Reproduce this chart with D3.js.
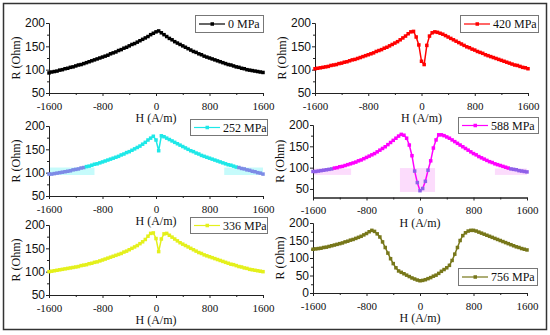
<!DOCTYPE html>
<html>
<head>
<meta charset="utf-8">
<script src="https://cdn.jsdelivr.net/npm/d3@7"></script>
<style>
  body { margin: 0; background: #fff; }
  svg { display: block; }
</style>
</head>
<body>
<div id="chart"></div>
<script>
// Field values (A/m), shared by every curve
var H = [-1600,-1560,-1520,-1480,-1440,-1400,-1360,-1320,-1280,-1240,
         -1200,-1160,-1120,-1080,-1040,-1000,-960,-920,-880,-840,
         -800,-760,-720,-680,-640,-600,-560,-520,-480,-440,
         -400,-360,-320,-280,-240,-200,-160,-120,-80,-40,
         0,
         40,80,120,160,200,240,280,320,360,400,
         440,480,520,560,600,640,680,720,760,800,
         840,880,920,960,1000,1040,1080,1120,1160,1200,
         1240,1280,1320,1360,1400,1440,1480,1520,1560,1600];

// Resistance (Ohm)
var r0 = [93,95,96,97,99,100,102,103,105,106,
          108,110,111,113,115,117,119,121,123,125,
          127,129,131,134,136,138,141,143,146,148,
          151,154,156,159,162,165,168,171,175,178,
          181,
          183,179,175,171,167,164,160,157,154,151,
          148,145,142,139,137,134,132,129,127,125,
          123,121,119,117,115,113,111,110,108,106,
          105,103,102,100,99,98,97,96,95,94];

var r420 = [102,103,104,105,106,107,109,110,111,113,
            114,116,117,119,121,122,124,126,128,130,
            132,134,136,139,141,143,146,148,151,154,
            157,160,164,168,172,177,181,182,170,153,
            118,
            111,152,172,179,181,180,178,176,173,170,
            167,164,161,158,155,152,149,147,144,142,
            139,137,135,132,130,128,126,124,122,120,
            118,116,114,112,110,109,107,105,104,102];

var r252 = [97,97,98,99,100,101,102,103,104,106,
            107,108,110,111,113,114,116,118,119,121,
            123,125,127,129,131,133,135,138,140,143,
            145,148,151,154,157,161,165,170,174,178,
            170,
            147,179,177,174,171,168,165,162,159,156,
            153,150,147,145,142,140,137,135,133,131,
            129,127,125,123,121,119,117,116,114,112,
            111,109,108,106,105,103,102,100,99,97];

var r588 = [91,91,92,93,94,95,96,97,99,100,
            102,103,105,107,109,111,113,116,118,121,
            124,127,130,133,137,141,145,149,154,159,
            164,169,174,178,176,169,153,128,92,65,
            46,
            51,68,94,116,146,165,177,177,175,172,
            169,165,161,157,153,149,145,141,137,133,
            130,126,123,120,117,114,112,109,107,105,
            103,101,99,97,96,95,93,92,91,90];

var r336 = [100,101,102,103,104,105,106,107,108,109,
            110,111,113,114,115,117,118,120,121,123,
            125,127,129,131,133,135,137,139,142,144,
            147,150,153,156,160,164,169,176,182,183,
            171,
            143,170,181,182,178,174,170,166,162,159,
            156,153,150,147,144,141,139,136,134,132,
            130,128,126,124,122,120,118,116,115,113,
            111,110,108,107,105,104,103,102,101,100];

var r756 = [125,126,127,128,130,131,133,135,137,139,
            141,143,146,148,151,153,156,159,162,166,
            170,175,179,176,169,160,146,130,114,98,
            84,72,63,59,55,51,47,43,40,37,
            35,
            36,38,41,44,48,51,56,62,67,72,
            79,93,111,130,150,164,172,177,179,179,
            177,174,171,168,165,162,159,156,153,150,
            147,144,141,138,135,132,130,127,125,123];

// faint selection bands seen in the original figure: [H from, H to, R from, R to]
var bands252 = [[-1600, -920, 95, 111], [1020, 1600, 95, 111]];
var bands588 = [[-1600, -1030, 83, 98], [-300, 225, 43, 99], [1120, 1600, 83, 98]];

var legendLabels = ["0 MPa", "420 MPa", "252 MPa", "588 MPa", "336 MPa", "756 MPa"];
var xTicks = [-1600, -800, 0, 800, 1600];
var xMinor = [-1200, -400, 400, 1200];
var yTicks = [50, 100, 150, 200];
var yTicks0 = [0, 50, 100, 150, 200];
var yMinor = [75, 125, 175];
var yMinor0 = [25, 75, 125, 175];

var width = 550;
var height = 335;
var serif = "'Liberation Serif', 'Times New Roman', serif";
var sans = "'Liberation Sans', Arial, sans-serif";

var svg = d3.select("#chart").append("svg")
  .attr("width", width)
  .attr("height", height);

svg.append("rect")
  .attr("width", width).attr("height", height)
  .attr("fill", "#fff");

// outer frame
svg.append("rect")
  .attr("x", 3.5).attr("y", 3.5)
  .attr("width", 543).attr("height", 326)
  .attr("fill", "none")
  .attr("stroke", "#333")
  .attr("stroke-width", 1.5);

// layout of the six panels (pixel boxes), data comes from the arrays above
var panels = [
  {data: r0,   name: legendLabels[0], color: "#000000", x0: 49,  x1: 263, yTop: 23,  yBot: 93,    dom: [50, 200], ticks: yTicks,  minor: yMinor,  leg: [195, 15, 68, 17]},
  {data: r420, name: legendLabels[1], color: "#ff0000", x0: 315, x1: 528, yTop: 23,  yBot: 93,    dom: [50, 200], ticks: yTicks,  minor: yMinor,  leg: [460, 15, 78, 17]},
  {data: r252, name: legendLabels[2], color: "#1ee8e8", x0: 49,  x1: 263, yTop: 126, yBot: 196,   dom: [50, 200], ticks: yTicks,  minor: yMinor,  leg: [190, 119, 77, 16],
   bands: bands252, bandFill: "#c6fbfb", hiColor: "#7d8be6"},
  {data: r588, name: legendLabels[3], color: "#ff00ff", x0: 313, x1: 527, yTop: 125, yBot: 197.5, dom: [30, 200], ticks: yTicks,  minor: yMinor,  leg: [458, 117, 80, 16],
   bands: bands588, bandFill: "#fcdcfc", hiColor: "#8f5fe8"},
  {data: r336, name: legendLabels[4], color: "#e4f01c", x0: 49,  x1: 263, yTop: 225, yBot: 295,   dom: [50, 200], ticks: yTicks,  minor: yMinor,  leg: [190, 217, 77, 16]},
  {data: r756, name: legendLabels[5], color: "#77771a", x0: 313, x1: 527, yTop: 223, yBot: 293,   dom: [0, 200],  ticks: yTicks0, minor: yMinor0, leg: [458, 268, 79, 17]}
];

panels.forEach(function(p) {
  var g = svg.append("g");

  var x = d3.scaleLinear().domain([-1600, 1600]).range([p.x0, p.x1]);
  var y = d3.scaleLinear().domain(p.dom).range([p.yBot, p.yTop]);

  var bands = p.bands || [];
  g.selectAll(".band")
    .data(bands)
    .enter().append("rect")
    .attr("class", "band")
    .attr("x", function(b) { return x(b[0]); })
    .attr("width", function(b) { return x(b[1]) - x(b[0]); })
    .attr("y", function(b) { return y(b[3]); })
    .attr("height", function(b) { return y(b[2]) - y(b[3]); })
    .attr("fill", p.bandFill);

  // x axis, major + minor ticks
  var xAxis = g.append("g")
    .attr("transform", "translate(0," + p.yBot + ")")
    .call(d3.axisBottom(x).tickValues(xTicks).tickSize(3).tickSizeOuter(0).tickPadding(6)
      .tickFormat(function(d) { return String(d); }));
  xAxis.selectAll("text")
    .style("font-family", serif)
    .style("font-size", "11px")
    .attr("fill", "#111");
  g.append("g")
    .attr("transform", "translate(0," + p.yBot + ")")
    .call(d3.axisBottom(x).tickValues(xMinor).tickSize(2).tickSizeOuter(0).tickFormat(""));

  // y axis
  var yAxis = g.append("g")
    .attr("transform", "translate(" + p.x0 + ",0)")
    .call(d3.axisLeft(y).tickValues(p.ticks).tickSize(3).tickSizeOuter(0).tickPadding(1));
  yAxis.selectAll("text")
    .style("font-family", sans)
    .style("font-size", "12px")
    .attr("fill", "#111");
  g.append("g")
    .attr("transform", "translate(" + p.x0 + ",0)")
    .call(d3.axisLeft(y).tickValues(p.minor).tickSize(2).tickSizeOuter(0).tickFormat(""));

  g.selectAll(".domain, .tick line").attr("stroke", "#222");

  // axis titles
  g.append("text")
    .attr("x", (p.x0 + p.x1) / 2)
    .attr("y", p.yBot + 29)
    .attr("text-anchor", "middle")
    .style("font-family", serif)
    .style("font-size", "12px")
    .attr("fill", "#111")
    .text("H (A/m)");

  g.append("text")
    .attr("transform", "translate(" + (p.x0 - 33) + "," + ((p.yTop + p.yBot) / 2) + ") rotate(-90)")
    .attr("text-anchor", "middle")
    .attr("dy", "0.35em")
    .style("font-family", serif)
    .style("font-size", "12px")
    .attr("fill", "#111")
    .text("R (Ohm)");

  // curve
  var pts = H.map(function(h, i) { return {h: h, r: p.data[i]}; });
  var line = d3.line()
    .x(function(d) { return x(d.h); })
    .y(function(d) { return y(d.r); });

  g.append("path")
    .datum(pts)
    .attr("fill", "none")
    .attr("stroke", p.color)
    .attr("stroke-width", 1.5)
    .attr("d", line);

  function inBand(d) {
    return bands.some(function(b) {
      return d.h >= b[0] && d.h <= b[1] && d.r >= b[2] && d.r <= b[3];
    });
  }

  g.selectAll(".pt")
    .data(pts)
    .enter().append("rect")
    .attr("class", "pt")
    .attr("x", function(d) { return x(d.h) - 1.75; })
    .attr("y", function(d) { return y(d.r) - 1.75; })
    .attr("width", 3.5)
    .attr("height", 3.5)
    .attr("fill", function(d) { return inBand(d) ? p.hiColor : p.color; });

  // legend
  var L = p.leg;
  var lg = svg.append("g").attr("transform", "translate(" + L[0] + "," + L[1] + ")");
  lg.append("rect")
    .attr("x", 0.5).attr("y", 0.5)
    .attr("width", L[2]).attr("height", L[3])
    .attr("fill", "#fff")
    .attr("stroke", "#777")
    .attr("stroke-width", 1);
  lg.append("line")
    .attr("x1", 4).attr("x2", 30)
    .attr("y1", L[3] / 2 + 0.5).attr("y2", L[3] / 2 + 0.5)
    .attr("stroke", p.color)
    .attr("stroke-width", 1.2);
  lg.append("rect")
    .attr("x", 15.5).attr("y", L[3] / 2 - 1.25)
    .attr("width", 3.5).attr("height", 3.5)
    .attr("fill", p.color);
  lg.append("text")
    .attr("x", 33)
    .attr("y", L[3] / 2 + 4.5)
    .style("font-family", serif)
    .style("font-size", "12px")
    .attr("fill", "#111")
    .text(p.name);
});
</script>
</body>
</html>
